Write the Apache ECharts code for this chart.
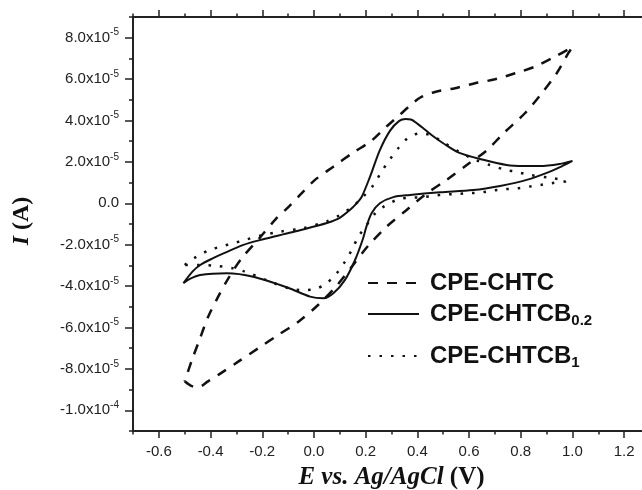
<!DOCTYPE html>
<html>
<head>
<meta charset="utf-8">
<script src="https://cdn.jsdelivr.net/npm/echarts@6/dist/echarts.min.js"></script>
<style>
html, body { margin: 0; padding: 0; background: #fff; }
#chart { width: 642px; height: 490px; }
</style>
</head>
<body>
<div id="chart"></div>
<script>
// cyclic voltammograms: E in V, I in units of 1e-5 A
var chtcE = [-0.5, -0.475, -0.447, -0.41, -0.37, -0.293, -0.215, -0.138, -0.06, 0.017, 0.088, 0.15, 0.21, 0.281, 0.355, 0.43, 0.513, 0.591, 0.668, 0.733, 0.816, 0.881, 0.939, 0.984, 1.0,
             0.932, 0.855, 0.778, 0.70, 0.623, 0.546, 0.468, 0.41, 0.37, 0.33, 0.28, 0.22, 0.152, 0.075, 0.004, -0.05, -0.10, -0.147, -0.21, -0.28, -0.33, -0.37, -0.41, -0.44, -0.47, -0.5];
var chtcI = [-8.6, -8.82, -8.88, -8.6, -8.29, -7.65, -7.0, -6.36, -5.72, -4.9, -3.98, -3.0, -2.05, -1.13, -0.36, 0.42, 1.13, 1.85, 2.55, 3.38, 4.35, 5.31, 6.28, 7.25, 7.55,
             7.08, 6.6, 6.28, 5.99, 5.8, 5.56, 5.38, 5.1, 4.7, 4.25, 3.7, 3.0, 2.45, 1.77, 1.13, 0.45, -0.2, -0.75, -1.67, -2.66, -3.6, -4.5, -5.5, -6.5, -7.5, -8.6];

var b02E = [-0.505, -0.47, -0.44, -0.39, -0.35, -0.273, -0.2, -0.12, -0.054, 0.05, 0.1, 0.139, 0.165, 0.185, 0.217, 0.255, 0.294, 0.33, 0.355, 0.375, 0.40, 0.43, 0.46, 0.50, 0.56, 0.655, 0.745, 0.81, 0.874, 0.95, 1.0,
            0.96, 0.913, 0.823, 0.72, 0.616, 0.488, 0.371, 0.307, 0.255, 0.223, 0.203, 0.19, 0.159, 0.12, 0.075, 0.036, -0.015, -0.1, -0.235, -0.337, -0.44, -0.48, -0.505];
var b02I = [-3.86, -3.3, -2.98, -2.65, -2.42, -2.01, -1.75, -1.5, -1.3, -0.95, -0.7, -0.32, 0.0, 0.32, 1.29, 2.57, 3.5, 3.98, 4.07, 4.05, 3.85, 3.55, 3.25, 2.9, 2.45, 2.1, 1.85, 1.8, 1.8, 1.9, 2.05,
            1.8, 1.53, 1.13, 0.84, 0.64, 0.53, 0.4, 0.3, 0.0, -0.48, -1.13, -1.7, -2.74, -3.7, -4.35, -4.59, -4.51, -4.08, -3.55, -3.38, -3.46, -3.65, -3.86];

var b1E = [-0.5, -0.454, -0.402, -0.357, -0.312, -0.267, -0.209, -0.131, -0.041, 0.05, 0.1, 0.15, 0.19, 0.23, 0.259, 0.292, 0.326, 0.365, 0.41, 0.45, 0.5, 0.56, 0.62, 0.68, 0.74, 0.79, 0.83, 0.92, 0.975,
           0.919, 0.874, 0.829, 0.784, 0.739, 0.694, 0.649, 0.604, 0.552, 0.507, 0.462, 0.423, 0.372, 0.333, 0.30, 0.265, 0.236, 0.204, 0.172, 0.146, 0.12, 0.088, 0.049, 0.004, -0.041, -0.093, -0.183, -0.267, -0.32, -0.38, -0.44, -0.5];
var b1I = [-2.98, -2.58, -2.25, -2.08, -1.93, -1.77, -1.57, -1.37, -1.2, -0.87, -0.57, -0.15, 0.32, 0.88, 1.48, 2.09, 2.66, 3.17, 3.38, 3.3, 2.95, 2.5, 2.12, 1.85, 1.62, 1.5, 1.38, 1.22, 1.08,
           0.97, 0.88, 0.8, 0.72, 0.68, 0.62, 0.53, 0.49, 0.45, 0.42, 0.37, 0.3, 0.27, 0.22, 0.05, -0.2, -0.5, -1.05, -1.61, -2.26, -2.82, -3.38, -3.86, -4.15, -4.19, -4.12, -3.72, -3.3, -3.12, -3.02, -2.98, -2.98];

var seriesNames = ['CPE-CHTC', 'CPE-CHTCB0.2', 'CPE-CHTCB1'];
var legendLabels = ['{b|CPE-CHTC}', '{b|CPE-CHTCB}{s|0.2}', '{b|CPE-CHTCB}{s|1}'];

// tick positions (majors are every other one)
var xTickValues = ['-0.7', '-0.6', '-0.5', '-0.4', '-0.3', '-0.2', '-0.1', '0.0', '0.1', '0.2', '0.3',
                   '0.4', '0.5', '0.6', '0.7', '0.8', '0.9', '1.0', '1.1', '1.2', '1.3'];
var yTickValues = ['-11', '-10', '-9', '-8', '-7', '-6', '-5', '-4', '-3', '-2', '-1',
                   '0', '1', '2', '3', '4', '5', '6', '7', '8', '9'];

function pairs(e, cur) {
  var d = [];
  for (var k = 0; k < e.length; k++) d.push([e[k], cur[k]]);
  return d;
}

var ink = '#222';

function xLabel(v) {
  var k = Math.round(v * 10);
  if (k % 2 !== 0) return '';
  return (k / 10).toFixed(1);
}
function yLabel(v) {
  var k = Math.round(v);
  if (k % 2 !== 0) return '';
  if (k === 0) return '{m|0.0}';
  var exp = -5, m = k;
  if (Math.abs(k) >= 10) { exp = -4; m = k / 10; }
  return '{m|' + m.toFixed(1) + 'x10}{e|' + exp + '}';
}
function majorOnly(i) { return i % 2 === 1; }

function valueX(pos, labels) {
  return {
    type: 'value', position: pos, min: -0.7, max: 1.3, interval: 0.1,
    axisLine: { onZero: false, lineStyle: { color: ink, width: 2 } },
    axisTick: { length: 3.5, lineStyle: { color: ink, width: 1.5 } },
    axisLabel: { show: labels, margin: 13, formatter: xLabel, fontFamily: 'Liberation Sans', fontSize: 15, color: ink },
    splitLine: { show: false }
  };
}
function majorX(pos) {
  return {
    type: 'category', position: pos, boundaryGap: false, data: xTickValues,
    axisLine: { show: false, onZero: false },
    axisTick: { length: 7, interval: majorOnly, lineStyle: { color: ink, width: 1.5 } },
    axisLabel: { show: false }, splitLine: { show: false }
  };
}

var serifBold = { fontFamily: 'Liberation Serif', fontWeight: 'bold', fontSize: 25, color: '#111' };
var serifBoldItalic = { fontFamily: 'Liberation Serif', fontWeight: 'bold', fontStyle: 'italic', fontSize: 25, color: '#111' };

var xAxisList = [valueX('bottom', true), majorX('bottom'), valueX('top', false), majorX('top')];
xAxisList[0].name = '{i|E vs. Ag/AgCl} {n|(V)}';
xAxisList[0].nameLocation = 'middle';
xAxisList[0].nameGap = 34;
xAxisList[0].nameTextStyle = { fontFamily: 'Liberation Serif', fontWeight: 'bold', fontSize: 25, color: '#111',
  rich: { i: serifBoldItalic, n: serifBold } };

var yAxisList = [{
  type: 'value', position: 'left', min: -11, max: 9, interval: 1,
  name: '{i|I} {n|(A)}', nameLocation: 'middle', nameGap: 99, nameRotate: 90,
  nameTextStyle: { fontFamily: 'Liberation Serif', fontWeight: 'bold', fontSize: 24, color: '#111',
    padding: [0, 0, 0, 6],
    rich: { i: { fontFamily: 'Liberation Serif', fontWeight: 'bold', fontStyle: 'italic', fontSize: 24, color: '#111' },
            n: { fontFamily: 'Liberation Serif', fontWeight: 'bold', fontSize: 24, color: '#111' } } },
  axisLine: { onZero: false, lineStyle: { color: ink, width: 2 } },
  axisTick: { length: 4, lineStyle: { color: ink, width: 1.5 } },
  axisLabel: {
    margin: 14, formatter: yLabel,
    rich: {
      m: { fontFamily: 'Liberation Sans', fontSize: 15, color: ink, lineHeight: 20 },
      e: { fontFamily: 'Liberation Sans', fontSize: 10, color: ink, lineHeight: 13, verticalAlign: 'top' }
    }
  },
  splitLine: { show: false }
}, {
  type: 'category', position: 'left', boundaryGap: false, data: yTickValues,
  axisLine: { show: false, onZero: false },
  axisTick: { length: 8, interval: majorOnly, lineStyle: { color: ink, width: 1.5 } },
  axisLabel: { show: false }, splitLine: { show: false }
}];

var legendTops = [271, 302, 344];
var legendList = seriesNames.map(function (n, i) {
  return {
    data: [n], left: 367, top: legendTops[i], orient: 'vertical', padding: 0,
    itemWidth: 51, itemHeight: 14, selectedMode: false,
    itemStyle: { opacity: 0 },
    formatter: function () { return legendLabels[i]; },
    textStyle: {
      rich: {
        b: { fontFamily: 'Liberation Sans', fontWeight: 'bold', fontSize: 24, color: '#111', lineHeight: 28, padding: [0, 0, 0, 6] },
        s: { fontFamily: 'Liberation Sans', fontWeight: 'bold', fontSize: 15, color: '#111', lineHeight: 2, verticalAlign: 'bottom' }
      }
    }
  };
});

var chart = echarts.init(document.getElementById('chart'));
chart.setOption({
  animation: false,
  backgroundColor: '#fff',
  grid: { left: 133, top: 17, width: 517, height: 414, containLabel: false, outerBoundsMode: 'none' },
  legend: legendList,
  xAxis: xAxisList,
  yAxis: yAxisList,
  series: [{
    name: seriesNames[0], type: 'line', xAxisIndex: 0, yAxisIndex: 0,
    data: pairs(chtcE, chtcI), symbol: 'none', smooth: 0.3,
    itemStyle: { color: '#111' },
    lineStyle: { color: '#111', width: 2.5, type: [10, 9], cap: 'butt' }
  }, {
    name: seriesNames[1], type: 'line', xAxisIndex: 0, yAxisIndex: 0,
    data: pairs(b02E, b02I), symbol: 'none', smooth: 0.3,
    itemStyle: { color: '#111' },
    lineStyle: { color: '#111', width: 2, type: 'solid' }
  }, {
    name: seriesNames[2], type: 'line', xAxisIndex: 0, yAxisIndex: 0,
    data: pairs(b1E, b1I), symbol: 'none', smooth: 0.3,
    itemStyle: { color: '#111' },
    lineStyle: { color: '#111', width: 2.5, type: [2.5, 9], cap: 'butt' }
  }]
});
</script>
</body>
</html>
